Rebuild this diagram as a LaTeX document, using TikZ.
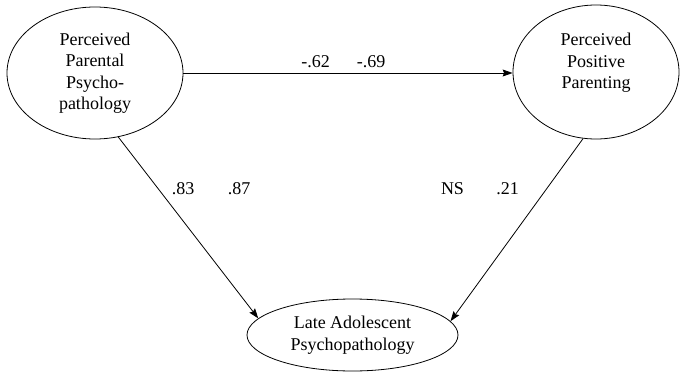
\documentclass[tikz,border=0pt]{standalone}
\usepackage{fontspec}
\setmainfont{Liberation Serif}
\usetikzlibrary{arrows.meta,shapes.geometric}
\begin{document}
\begin{tikzpicture}[x=1pt,y=-1pt,
  every node/.style={font=\fontsize{18}{21.5}\selectfont},
  latent/.style={ellipse,draw,line width=0.8pt,inner sep=0pt,align=center},
  path/.style={line width=0.8pt,-{Stealth[length=10pt,width=7pt,inset=1.5pt]}},
  coef/.style={inner sep=0pt,anchor=base}]
\useasboundingbox (0,0) rectangle (680,372);

% latent variables
\node[latent,minimum width=176pt,minimum height=132pt] (ppp) at (95,73)
  {Perceived\\Parental\\Psycho-\\pathology};
\node[latent,minimum width=166pt,minimum height=134pt] (ppos) at (596,72)
  {Perceived\\Positive\\Parenting\\\mbox{}};
\node[latent,minimum width=211pt,minimum height=72pt] (lap) at (352.5,335)
  {Late Adolescent\\Psychopathology};

% structural paths
\draw[path] (ppp.east) -- (ppp.east -| ppos.west);
\draw[path] (ppp.-70.8) -- (lap.170.5);
\draw[path] (ppos.-101.4) -- (lap.8.4);

% path coefficients
\node[coef] (c1) at (315.5,67) {-.62};
\node[coef] (c2) at (371,67) {-.69};
\node[coef] (c3) at (183,194) {.83};
\node[coef] (c4) at (239,194) {.87};
\node[coef] (c5) at (452.5,194) {NS};
\node[coef] (c6) at (507.5,194) {.21};
\end{tikzpicture}
\end{document}
